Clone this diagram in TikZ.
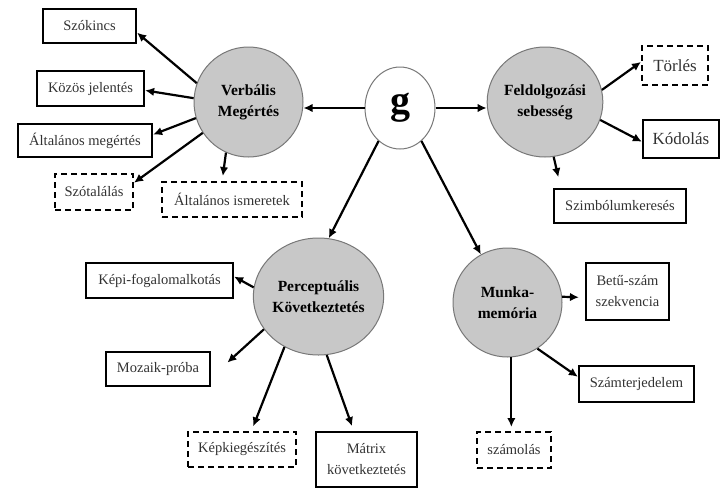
\documentclass[tikz,border=0pt]{standalone}
\usepackage{fontspec}
\setmainfont{Liberation Serif}
\usetikzlibrary{arrows.meta,shapes.geometric}
\definecolor{circfill}{RGB}{200,200,200}
\definecolor{circline}{RGB}{120,120,120}
\definecolor{boxtext}{RGB}{50,50,50}
\tikzset{
  solidbox/.style={draw=black,line width=2.2pt,rectangle,inner sep=0pt,align=center,
    text=boxtext,font=\fontsize{14.5}{17}\selectfont},
  dashbox/.style={solidbox,line width=2pt,dash pattern=on 6pt off 4pt},
  factor/.style={ellipse,draw=circline,line width=1pt,fill=circfill,inner sep=0pt,align=center,
    font=\fontsize{15.5}{21}\selectfont\bfseries},
  arr/.style={line width=2.2pt,-{Latex[length=9pt,width=8.5pt]}},
}
\begin{document}
\begin{tikzpicture}[x=1pt,y=-1pt]
\useasboundingbox (0,0) rectangle (721,488);
% circles
\node[ellipse,draw=circline,line width=1pt,fill=white,minimum width=70pt,minimum height=82pt,inner sep=0pt,
  font=\fontsize{40}{40}\selectfont\bfseries] (g) at (400,108) {g};
\node[factor,minimum width=109pt,minimum height=110pt] (verb) at (248.5,102) {Verbális\\Megértés};
\node[factor,minimum width=108pt,minimum height=110pt] (feld) at (545,102) {Feldolgozási\\sebesség};
\node[factor,minimum width=108pt,minimum height=117pt] (perc) at (318.5,296.5) {Perceptuális\\Következtetés};
\node[factor,minimum width=109pt,minimum height=109pt] (munka) at (507.5,302.5) {Munka-\\memória};
% boxes
\node[solidbox,minimum width=93pt,minimum height=34pt] (szok) at (89.5,26) {Szókincs};
\node[solidbox,minimum width=107pt,minimum height=35pt] (kozos) at (90.5,88.5) {Közös jelentés};
\node[solidbox,minimum width=134pt,minimum height=33pt] (altm) at (85,140.5) {Általános megértés};
\node[dashbox,minimum width=78pt,minimum height=36pt] (szot) at (94,192) {Szótalálás};
\node[dashbox,minimum width=140pt,minimum height=35pt] (altism) at (232,199.5) {Általános ismeretek};
\node[dashbox,minimum width=66pt,minimum height=39pt,font=\fontsize{17}{20}\selectfont] (torl) at (675,65.5) {Törlés};
\node[solidbox,minimum width=76pt,minimum height=38pt,font=\fontsize{17}{20}\selectfont] (kod) at (681,139) {Kódolás};
\node[solidbox,minimum width=132pt,minimum height=34pt] (szimb) at (620,206) {Szimbólumkeresés};
\node[solidbox,minimum width=147pt,minimum height=35pt] (kepi) at (159.5,280.5) {Képi-fogalomalkotás};
\node[solidbox,minimum width=104pt,minimum height=34pt] (moz) at (158,369) {Mozaik-próba};
\node[dashbox,minimum width=108pt,minimum height=35pt] (kepk) at (242,449.5) {Képkiegészítés};
\node[solidbox,minimum width=101pt,minimum height=55pt,font=\fontsize{14.5}{21}\selectfont] (matr) at (366.5,459.5) {Mátrix\\következtetés};
\node[solidbox,minimum width=83pt,minimum height=57pt,font=\fontsize{14.5}{21}\selectfont] (betu) at (627.5,291.5) {Betű-szám\\szekvencia};
\node[solidbox,minimum width=115pt,minimum height=36pt] (szamt) at (636.5,384) {Számterjedelem};
\node[dashbox,minimum width=74pt,minimum height=36pt] (szamol) at (514,450) {számolás};
% arrows from g
\draw[arr] (g.west) -- (g.west -| verb.east);
\draw[arr] (g.east) -- (g.east -| feld.west);
\draw[arr] (g.237) -- (perc.80);
\draw[arr] (g.303) -- (munka.119);
% verbal
\draw[arr] (verb.160) -- (szok.-8);
\draw[arr] (verb.176) -- (kozos.-2);
\draw[arr] (verb.197) -- (altm.5);
\draw[arr] (verb.214) -- (szot.13);
\draw[arr,shorten >=5pt] (verb.246) -- (altism.118);
% processing speed
\draw[arr] (feld.12) -- (torl.174);
\draw[arr] (feld.-18) -- (kod.184);
\draw[arr,shorten >=11pt] (feld.-81) -- (szimb.163);
% perceptual
\draw[arr] (perc.172) -- (kepi.3);
\draw[arr,shorten >=22pt] (perc.211) -- (moz.-9);
\draw[arr,shorten >=5pt] (perc.236) -- (kepk.63);
\draw[arr,shorten >=5pt] (perc.-82) -- (matr.114);
% working memory
\draw[arr,shorten >=6pt] (munka.6) -- (betu.188);
\draw[arr] (munka.-57) -- (szamt.173);
\draw[arr,shorten >=4pt] (munka.-86) -- (munka.-86 |- szamol.north);
\end{tikzpicture}
\end{document}
